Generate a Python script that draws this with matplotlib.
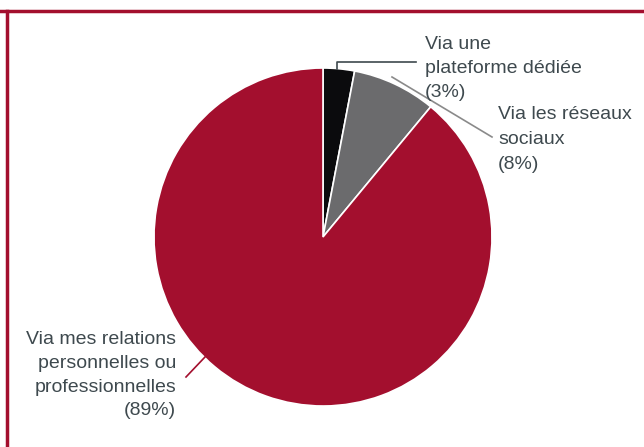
import matplotlib
matplotlib.use("Agg")
import matplotlib.pyplot as plt
from matplotlib.lines import Line2D

# Channels used to find the position
labels = ["Via une\nplateforme dédiée", "Via les réseaux\nsociaux",
          "Via mes relations\npersonnelles ou\nprofessionnelles"]
shares = [3, 8, 89]
colors = ["#0b0b0d", "#6b6b6d", "#a30f2e"]

W, H = 644, 447
fig = plt.figure(figsize=(W / 100, H / 100), dpi=100)
ax = fig.add_axes([0, 0, 1, 1])

cx, cy, r = 323, H - 237, 169
ax.pie(shares, colors=colors, radius=r, center=(cx, cy), startangle=90,
       counterclock=False,
       wedgeprops=dict(edgecolor="white", linewidth=1.2))
ax.set_xlim(0, W)
ax.set_ylim(0, H)
ax.set_aspect("equal")
ax.axis("off")

txt = dict(fontsize=14, color="#3e494e", family=["Liberation Sans", "DejaVu Sans"],
           va="top")

def py(y):
    return H - y

# Labels with their percentages
ax.text(425, py(36), f"{labels[0]}\n({shares[0]}%)", ha="left",
        linespacing=1.52, **txt)
ax.text(498, py(106), f"{labels[1]}\n({shares[1]}%)", ha="left",
        linespacing=1.6, **txt)
ax.text(176, py(331), f"{labels[2]}\n({shares[2]}%)", ha="right",
        linespacing=1.52, **txt)

# Leader lines
ax.plot([337, 337, 416], [py(69), py(62), py(62)], color="#3e494e", lw=1.2)
ax.plot([392, 492], [py(77), py(137)], color="#8a8a8a", lw=1.2)
ax.plot([186, 205], [py(377), py(357)], color="#a30f2e", lw=1.2)

# Frame lines along the top and left edges
fig.add_artist(Line2D([0.0, 1.0], [1 - 11 / H, 1 - 11 / H],
                      transform=fig.transFigure, color="#a30f2e", lw=2.5))
fig.add_artist(Line2D([7 / W, 7 / W], [0.0, 1 - 11 / H],
                      transform=fig.transFigure, color="#a30f2e", lw=2.5))

fig.savefig("out.png", dpi=100)
